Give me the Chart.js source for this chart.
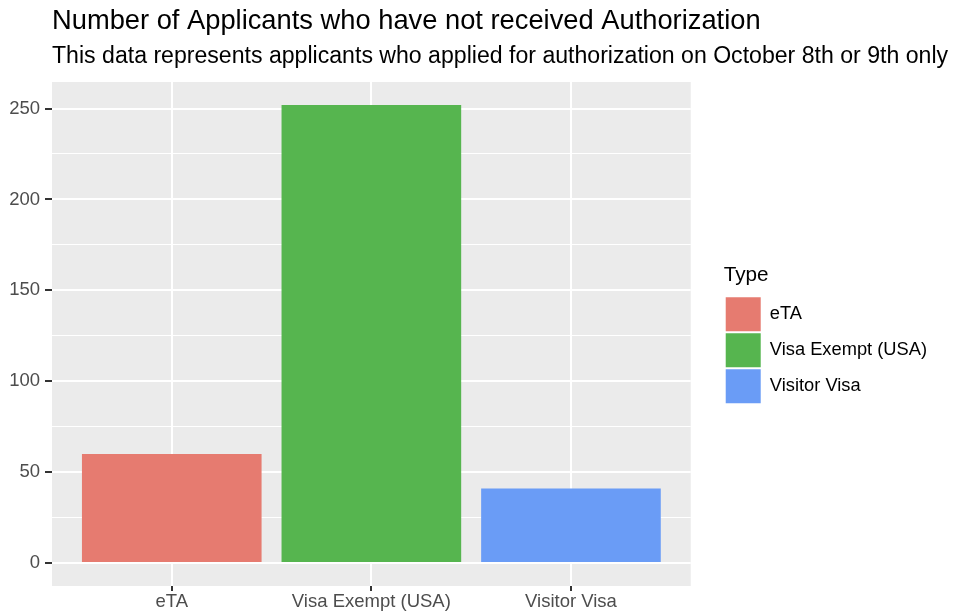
<!DOCTYPE html>
<html>
<head>
<meta charset="utf-8">
<script src="https://cdn.jsdelivr.net/npm/chart.js@4/dist/chart.umd.min.js"></script>
<style>
  html, body { margin: 0; padding: 0; background: #fff; }
  #wrap { width: 957px; height: 615px; }
</style>
</head>
<body>
<div id="wrap"><canvas id="chart" width="957" height="615"></canvas></div>
<script>
// ── DATA ─────────────────────────────────────────
const categories  = ["eTA", "Visa Exempt (USA)", "Visitor Visa"];
const counts      = [60, 252, 41];
const barColors   = ["#E67B70", "#56B54F", "#6A9CF6"];
const yMajorTicks = [0, 50, 100, 150, 200, 250];
const yMinorTicks = [25, 75, 125, 175, 225];
const titleText    = "Number of Applicants who have not received Authorization";
const subtitleText = "This data represents applicants who applied for authorization on October 8th or 9th only";
const legendTitle  = "Type";

// ── SCALE RANGES (ggplot style 5% / 0.6 expansion) ──
const yMax = Math.max(...counts);
const yPad = yMax * 0.05;

Chart.defaults.font.family = "'Liberation Sans', Arial, sans-serif";

// ── PANEL BACKGROUND + TITLE ALIGN ───────────────
const panelBg = {
  id: "panelBg",
  afterLayout(chart) {
    // titles line up with the panel, not with the axis labels
    chart.boxes
      .filter(b => b.position === "top" && b.fullSize)
      .forEach(b => { b.left = chart.chartArea.left; b.right = chart.width; });
  },
  beforeDraw(chart) {
    const a = chart.chartArea, ctx = chart.ctx;
    ctx.save();
    ctx.fillStyle = "#EBEBEB";
    ctx.fillRect(a.left, a.top, a.right - a.left, a.bottom - a.top);
    ctx.restore();
  }
};

const isMajor = v => yMajorTicks.includes(v);

// ── CHART ────────────────────────────────────────
new Chart(document.getElementById("chart"), {
  type: "bar",
  data: {
    datasets: [{
      data:            categories.map((c, i) => ({ x: i, y: counts[i] })),
      backgroundColor: barColors,
      borderWidth:     0,
      barPercentage:   0.9,
      categoryPercentage: 1.0,
    }],
  },
  options: {
    responsive: false,
    animation:  false,
    layout: { padding: { left: 8, right: 20, top: 0, bottom: 0 } },
    plugins: {
      title: {
        display: true, text: titleText, align: "start", color: "#000",
        font: { size: 27.3, weight: "normal" },
        padding: { top: 5.2, bottom: 0 },
      },
      subtitle: {
        display: true, text: subtitleText, align: "start", color: "#000",
        font: { size: 23.1, weight: "normal" },
        padding: { top: 4.5, bottom: 11.8 },
      },
      legend: {
        position: "right",
        align:    "start",
        maxWidth: 300,
        title: {
          display: true, text: legendTitle, color: "#000", position: "start",
          font: { size: 20.7 }, padding: { top: 265, bottom: 5.5 },
        },
        labels: {
          boxWidth: 35, boxHeight: 34, padding: 2,
          color: "#000", font: { size: 18.3 },
          generateLabels: () => categories.map((c, i) => ({
            text: c, fillStyle: barColors[i], strokeStyle: barColors[i],
            lineWidth: 0, hidden: false, index: i,
          })),
        },
      },
      tooltip: { enabled: false },
    },
    scales: {
      x: {
        type: "linear",
        min: -0.6,
        max: categories.length - 0.4,
        offset: false,
        afterBuildTicks: s => { s.ticks = categories.map((c, i) => ({ value: i })); },
        afterFit: s => { s.height = 29; },
        border: { display: false },
        grid: {
          offset: false, color: "#fff", lineWidth: 2,
          tickLength: 5, tickColor: "#333", tickWidth: 2,
        },
        ticks: {
          autoSkip: false, maxRotation: 0, padding: 0,
          color: "#4D4D4D", font: { size: 18.5 },
          callback: v => categories[v] ?? "",
        },
      },
      y: {
        min: -yPad,
        max: yMax + yPad,
        afterBuildTicks: s => {
          s.ticks = [...yMajorTicks, ...yMinorTicks].sort((a, b) => a - b).map(v => ({ value: v }));
        },
        afterFit: s => { s.width = 44; },
        border: { display: false },
        grid: {
          color: "#fff",
          lineWidth: c => isMajor(c.tick.value) ? 2 : 1,
          tickLength: 7,
          tickColor: c => isMajor(c.tick.value) ? "#333" : "rgba(0,0,0,0)",
          tickWidth: 2,
        },
        ticks: {
          autoSkip: false, padding: 5,
          color: "#4D4D4D", font: { size: 18.5 },
          callback: v => isMajor(v) ? v : "",
        },
      },
      gap: {
        position: "right",
        display: true,
        afterFit: s => { s.width = 33; },
        grid:   { display: false },
        border: { display: false },
        ticks:  { display: false },
      },
    },
  },
  plugins: [panelBg],
});
</script>
</body>
</html>
